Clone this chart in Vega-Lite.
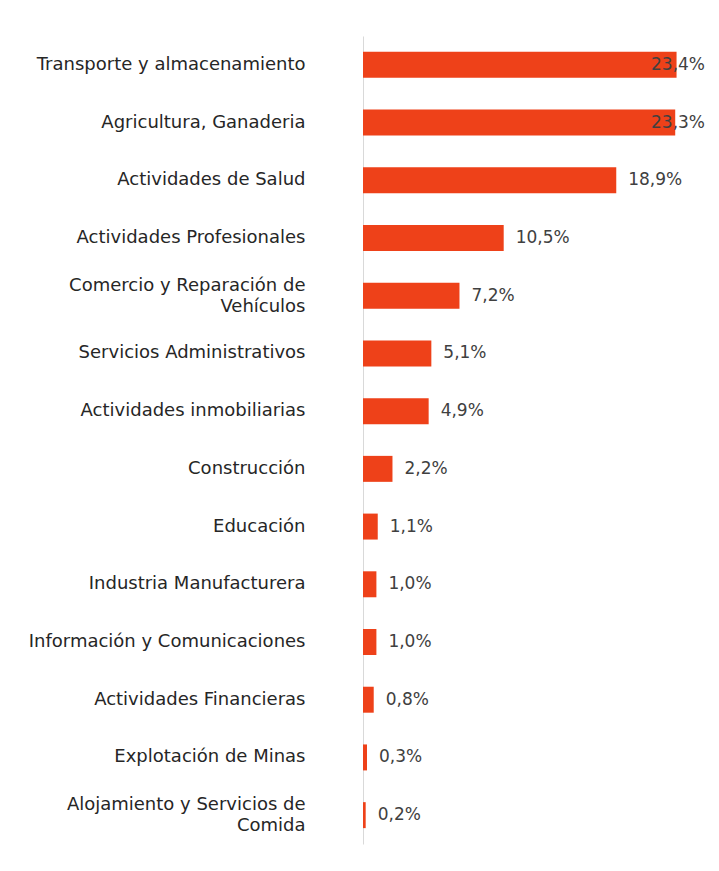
{
  "$schema": "https://vega.github.io/schema/vega-lite/v6.json",
  "width": 335,
  "height": 808,
  "autosize": {"type": "none"},
  "padding": {"left": 363, "top": 36, "right": 21, "bottom": 27},
  "background": "white",
  "config": {
    "view": {"stroke": null},
    "font": "DejaVu Sans",
    "locale": {"number": {"decimal": ",", "thousands": ".", "grouping": [3], "currency": ["", " €"]}}
  },
  "data": {
    "values": [
      {"sector": "Transporte y almacenamiento", "share": 0.234},
      {"sector": "Agricultura, Ganaderia", "share": 0.233},
      {"sector": "Actividades de Salud", "share": 0.189},
      {"sector": "Actividades Profesionales", "share": 0.105},
      {"sector": "Comercio y Reparación de|Vehículos", "share": 0.072},
      {"sector": "Servicios Administrativos", "share": 0.051},
      {"sector": "Actividades inmobiliarias", "share": 0.049},
      {"sector": "Construcción", "share": 0.022},
      {"sector": "Educación", "share": 0.011},
      {"sector": "Industria  Manufacturera", "share": 0.010},
      {"sector": "Información y  Comunicaciones", "share": 0.010},
      {"sector": "Actividades Financieras", "share": 0.008},
      {"sector": "Explotación de  Minas", "share": 0.003},
      {"sector": "Alojamiento y  Servicios de|Comida", "share": 0.002}
    ]
  },
  "encoding": {
    "y": {
      "field": "sector",
      "type": "nominal",
      "sort": null,
      "scale": {"paddingInner": 0.55, "paddingOuter": 0.275},
      "axis": {
        "title": null,
        "ticks": false,
        "labelPadding": 58,
        "labelFontSize": 18,
        "labelColor": "#262626",
        "labelLimit": 400,
        "labelLineHeight": 21,
        "labelOffset": {"condition": {"test": "indexof(datum.value, '|') >= 0", "value": -10}, "value": 0},
        "labelExpr": "split(datum.label, '|')",
        "domainColor": "#d9d9d9",
        "domainWidth": 1
      }
    }
  },
  "layer": [
    {
      "mark": {"type": "bar", "color": "#EE4119"},
      "encoding": {
        "x": {
          "field": "share",
          "type": "quantitative",
          "scale": {"domain": [0, 0.25]},
          "axis": null
        }
      }
    },
    {
      "mark": {"type": "text", "align": "left", "baseline": "middle", "dx": 12, "fontSize": 17, "color": "#404040"},
      "encoding": {
        "x": {
          "field": "share",
          "type": "quantitative",
          "scale": {"domain": [0, 0.206], "range": [0, 276], "clamp": true},
          "axis": null
        },
        "text": {"field": "share", "type": "quantitative", "format": ".1%"}
      }
    }
  ],
  "resolve": {"scale": {"x": "independent"}}
}
